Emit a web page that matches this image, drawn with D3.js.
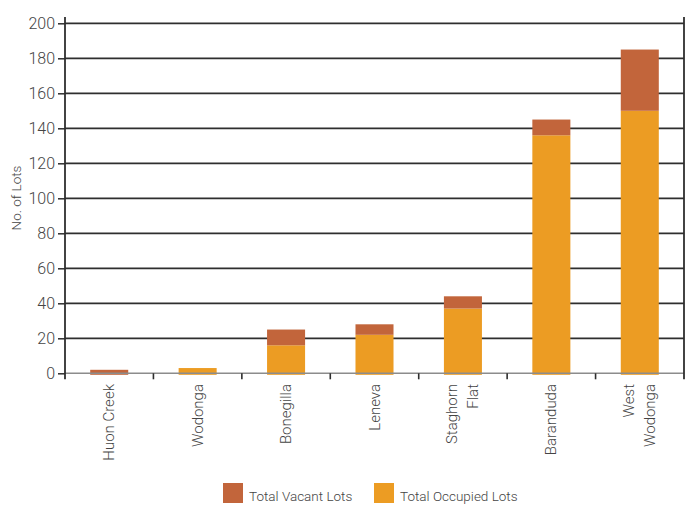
<!DOCTYPE html>
<html>
<head>
<meta charset="utf-8">
<script src="https://cdn.jsdelivr.net/npm/d3@7"></script>
<style>
  body { margin: 0; background: #fff; }
  svg text { font-family: Roboto, "DejaVu Sans", sans-serif; font-weight: 300; fill: #444; }
</style>
</head>
<body>
<svg id="chart" width="686" height="505"></svg>
<script>
//données
var categories = [["Huon Creek"], ["Wodonga"], ["Bonegilla"], ["Leneva"], ["Staghorn", "Flat"], ["Baranduda"], ["West", "Wodonga"]];
var occupied = [0, 3, 16, 22, 37, 136, 150];
var vacant = [2, 0, 9, 6, 7, 9, 35];
var yTicks = [0, 20, 40, 60, 80, 100, 120, 140, 160, 180, 200];
var seriesNames = ["Total Vacant Lots", "Total Occupied Lots"];
var colors = {vacant: "#c2653b", occupied: "#ec9c23"};

var svg = d3.select("#chart");
var plotLeft = 65, plotRight = 684, plotTop = 23.3, plotBottom = 373.3;

var x = d3.scaleBand()
  .domain(d3.range(categories.length))
  .range([plotLeft, plotRight])
  .padding(0);

var y = d3.scaleLinear()
  .domain([0, 200])
  .range([plotBottom, plotTop]);

//lignes de grille
svg.append("g")
  .selectAll("line")
  .data(yTicks.filter(d => d > 0))
  .join("line")
    .attr("x1", plotLeft).attr("x2", plotRight)
    .attr("y1", d => y(d)).attr("y2", d => y(d))
    .attr("stroke", "#2e2e2e").attr("stroke-width", 1.7);

//barres empilées
var barW = x.bandwidth() * 0.43;
var stackData = categories.map((c, i) => ({i: i, occupied: occupied[i], vacant: vacant[i]}));
var series = d3.stack().keys(["occupied", "vacant"])(stackData);

svg.append("g")
  .selectAll("g")
  .data(series)
  .join("g")
    .attr("fill", s => colors[s.key])
  .selectAll("rect")
  .data(s => s)
  .join("rect")
    .attr("x", d => x(d.data.i) + x.bandwidth() / 2 - barW / 2)
    .attr("y", d => y(d[1]))
    .attr("width", barW)
    .attr("height", d => Math.max(0, y(d[0]) - y(d[1]) + (d[0] == 0 && d[1] > 0 ? 1.5 : 0)));

//ligne du zéro (grise)
svg.append("line")
  .attr("x1", plotLeft).attr("x2", plotRight)
  .attr("y1", y(0)).attr("y2", y(0))
  .attr("stroke", "#8c8c8c").attr("stroke-width", 1.6);

//axe y
var yAxis = d3.axisLeft(y).tickValues(yTicks).tickSize(7).tickPadding(3);
var gy = svg.append("g").attr("transform", `translate(${plotLeft},0)`).call(yAxis);
gy.select(".domain").remove();
gy.selectAll(".tick line").attr("stroke", "#2e2e2e").attr("stroke-width", 1.5);
gy.selectAll(".tick text").attr("font-size", 16).style("fill", "#444")
  .attr("font-family", "Roboto, sans-serif").attr("font-weight", 300);

svg.append("line")
  .attr("x1", plotLeft).attr("x2", plotLeft)
  .attr("y1", 17).attr("y2", plotBottom + 6)
  .attr("stroke", "#2e2e2e").attr("stroke-width", 1.8);
svg.append("line")
  .attr("x1", plotRight).attr("x2", plotRight)
  .attr("y1", 17).attr("y2", plotBottom + 6)
  .attr("stroke", "#2e2e2e").attr("stroke-width", 1.8);

//graduations de l'axe x (limites des catégories)
svg.append("g")
  .selectAll("line")
  .data(d3.range(1, categories.length))
  .join("line")
    .attr("x1", d => x(d)).attr("x2", d => x(d))
    .attr("y1", plotBottom).attr("y2", plotBottom + 6)
    .attr("stroke", "#2e2e2e").attr("stroke-width", 1.6);

//étiquettes des catégories (verticales)
svg.append("g")
  .selectAll("text")
  .data(categories)
  .join("text")
    .attr("transform", (d, i) => `translate(${x(i) + x.bandwidth() / 2},384) rotate(-90)`)
    .attr("text-anchor", "end")
    .attr("font-size", 15)
  .selectAll("tspan")
  .data(d => d.map((t, j) => ({t: t, j: j, n: d.length})))
  .join("tspan")
    .attr("x", 0)
    .attr("y", d => (d.j - (d.n - 1) / 2) * 21 + 5)
    .text(d => d.t);

//titre de l'axe y
svg.append("text")
  .attr("transform", "translate(21,198) rotate(-90)")
  .attr("text-anchor", "middle")
  .attr("font-size", 13.5)
  .text("No. of Lots");

//légende
var legend = svg.append("g");
var legendX = [223, 374];
var legendColors = [colors.vacant, colors.occupied];
legend.selectAll("rect")
  .data(seriesNames)
  .join("rect")
    .attr("x", (d, i) => legendX[i]).attr("y", 483)
    .attr("width", 20).attr("height", 20)
    .attr("fill", (d, i) => legendColors[i]);
legend.selectAll("text")
  .data(seriesNames)
  .join("text")
    .attr("x", (d, i) => legendX[i] + 26).attr("y", 501)
    .attr("font-size", 13.5)
    .text(d => d);
</script>
</body>
</html>
